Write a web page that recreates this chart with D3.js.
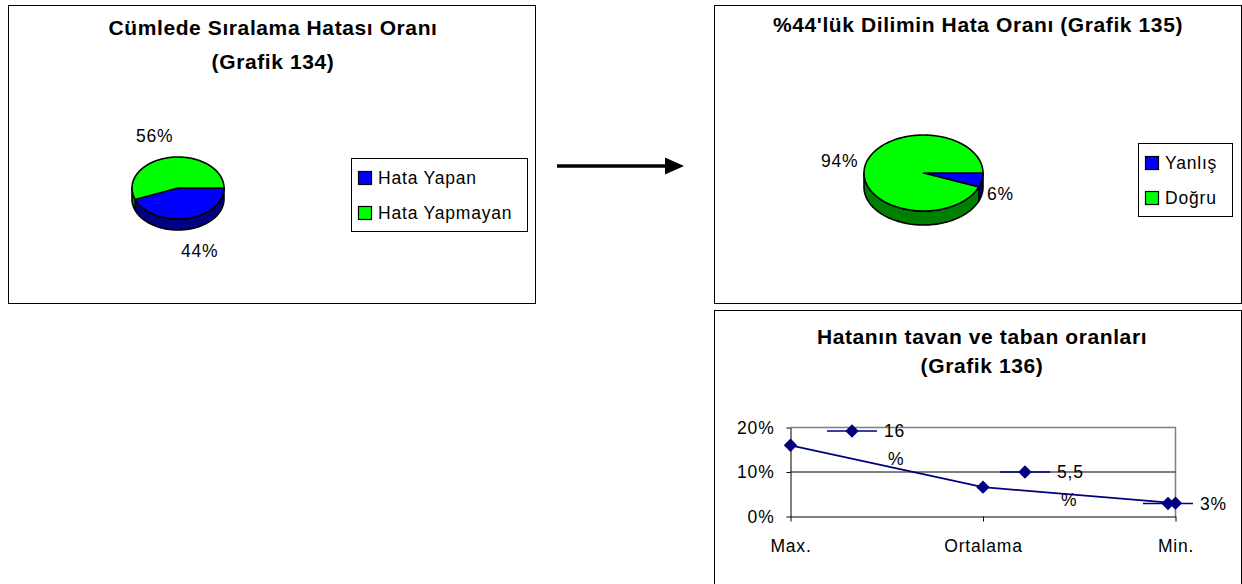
<!DOCTYPE html>
<html>
<head>
<meta charset="utf-8">
<script src="https://cdn.jsdelivr.net/npm/d3@7"></script>
<style>
  body { margin: 0; background: #fff; }
  svg { display: block; }
  text { font-family: "Liberation Sans", Arial, sans-serif; fill: #000; }
  .title { font-weight: bold; font-size: 21px; letter-spacing: 0.6px; }
  .lbl { font-size: 17.5px; letter-spacing: 0.8px; }
</style>
</head>
<body>
<svg id="chart" width="1242" height="584"></svg>
<script>
// data for the three charts
var pie1Labels = ["Hata Yapan", "Hata Yapmayan"];
var pie1Values = [44, 56];
var pie2Labels = ["Yanlış", "Doğru"];
var pie2Values = [6, 94];
var lineCats = ["Max.", "Ortalama", "Min."];
var lineValues = [16, 6.6, 3];
var lineLabels = [["16", "%"], ["5,5", "%"], ["3%"]];
var yTicks = [0, 10, 20];

var TOP_COLORS = ["#0000ff", "#00ff00"];
var SIDE_COLORS = ["#000080", "#008000"];

var svg = d3.select("#chart");

var drawBox = function(x, y, w, h) {
  svg.append("rect")
    .attr("x", x + 0.5).attr("y", y + 0.5)
    .attr("width", w).attr("height", h)
    .attr("fill", "none").attr("stroke", "#000").attr("stroke-width", 1);
};

var drawTitle = function(lines, cx, y0, gap) {
  lines.forEach(function(t, i) {
    svg.append("text").attr("class", "title")
      .attr("x", cx).attr("y", y0 + i * gap)
      .attr("text-anchor", "middle")
      .text(t);
  });
};

var ellipsePoint = function(cx, cy, rx, ry, a, dy) {
  return [cx + rx * Math.sin(a), cy - ry * Math.cos(a) + (dy || 0)];
};

var arcPoints = function(cx, cy, rx, ry, a0, a1, dy) {
  var n = Math.max(2, Math.ceil(Math.abs(a1 - a0) / 0.03));
  return d3.range(n + 1).map(function(i) {
    return ellipsePoint(cx, cy, rx, ry, a0 + (a1 - a0) * i / n, dy);
  });
};

var draw3dPie = function(values, cx, cy, rx, ry, depth) {
  // start at 3 o'clock, go clockwise
  var arcs = d3.pie().sort(null)
    .startAngle(Math.PI / 2).endAngle(Math.PI * 2.5)(values);
  var line = d3.line();
  var g = svg.append("g");
  // side walls (front half only)
  arcs.forEach(function(d, i) {
    var a0 = Math.max(d.startAngle, Math.PI / 2);
    var a1 = Math.min(d.endAngle, Math.PI * 1.5);
    if (a1 <= a0) return;
    var top = arcPoints(cx, cy, rx, ry, a0, a1, 0);
    var bot = arcPoints(cx, cy, rx, ry, a1, a0, depth);
    g.append("path")
      .attr("d", line(top.concat(bot)) + "Z")
      .attr("fill", SIDE_COLORS[i])
      .attr("stroke", "#000").attr("stroke-width", 1.6)
      .attr("stroke-linejoin", "round");
  });
  // top faces
  arcs.forEach(function(d, i) {
    var pts = [[cx, cy]].concat(arcPoints(cx, cy, rx, ry, d.startAngle, d.endAngle, 0));
    g.append("path")
      .attr("d", line(pts) + "Z")
      .attr("fill", TOP_COLORS[i])
      .attr("stroke", "#000").attr("stroke-width", 1.6)
      .attr("stroke-linejoin", "round");
  });
  return arcs;
};

var drawLegend = function(labels, x, y, w, h) {
  svg.append("rect")
    .attr("x", x + 0.5).attr("y", y + 0.5)
    .attr("width", w).attr("height", h)
    .attr("fill", "#fff").attr("stroke", "#000").attr("stroke-width", 1);
  labels.forEach(function(t, i) {
    var yy = y + 20 + i * 35;
    svg.append("rect")
      .attr("x", x + 7.5).attr("y", yy - 6.5)
      .attr("width", 13).attr("height", 13)
      .attr("fill", TOP_COLORS[i]).attr("stroke", "#000").attr("stroke-width", 1.2);
    svg.append("text").attr("class", "lbl")
      .attr("x", x + 27).attr("y", yy + 6)
      .text(t);
  });
};

var addLabel = function(t, x, y) {
  svg.append("text").attr("class", "lbl").attr("x", x).attr("y", y).text(t);
};

// ---------- chart 134 ----------
drawBox(8, 5, 527, 298);
drawTitle(["Cümlede Sıralama Hatası Oranı", "(Grafik 134)"], 273, 35, 34);
draw3dPie(pie1Values, 178, 188, 46, 31, 11);
addLabel(pie1Values[1] + "%", 136, 142);
addLabel(pie1Values[0] + "%", 181, 257);
drawLegend(pie1Labels, 351, 158, 176, 73);

// ---------- arrow ----------
svg.append("line")
  .attr("x1", 557).attr("y1", 166).attr("x2", 667).attr("y2", 166)
  .attr("stroke", "#000").attr("stroke-width", 3.5);
svg.append("path")
  .attr("d", "M665,157.5L684,166L665,174.5Z")
  .attr("fill", "#000");

// ---------- chart 135 ----------
drawBox(714, 5, 527, 298);
drawTitle(["%44'lük Dilimin Hata Oranı (Grafik 135)"], 978, 32, 0);
draw3dPie(pie2Values, 923.5, 173, 59.5, 38, 14);
addLabel(pie2Values[1] + "%", 821, 167);
addLabel(pie2Values[0] + "%", 987, 200);
drawLegend(pie2Labels, 1138, 143, 94, 73);

// ---------- chart 136 ----------
drawBox(714, 310, 527, 290);
drawTitle(["Hatanın tavan ve taban oranları", "(Grafik 136)"], 982, 344, 29);

var plot = { left: 790.5, right: 1175.5, top: 427.5, bottom: 516.5 };
var x = d3.scalePoint().domain(lineCats).range([plot.left, plot.right]).padding(0);
var y = d3.scaleLinear().domain([0, 20]).range([plot.bottom, plot.top]);

// plot area border (gray) and gridline
svg.append("path")
  .attr("d", "M" + plot.left + "," + plot.top + "H" + plot.right + "V" + plot.bottom)
  .attr("fill", "none").attr("stroke", "#808080").attr("stroke-width", 1.5);
svg.append("line")
  .attr("x1", plot.left).attr("x2", plot.right)
  .attr("y1", y(10)).attr("y2", y(10))
  .attr("stroke", "#000").attr("stroke-width", 1);

var yAxis = svg.append("g")
  .attr("transform", "translate(" + plot.left + ",0)")
  .call(d3.axisLeft(y).tickValues(yTicks).tickSize(4).tickSizeOuter(0)
    .tickFormat(function(d) { return d + "%"; }));
yAxis.select(".domain").attr("stroke", "#000");
yAxis.selectAll("text").attr("class", "lbl").attr("font-family", null).attr("font-size", null)
  .attr("x", -16);

var xAxis = svg.append("g")
  .attr("transform", "translate(0," + plot.bottom + ")")
  .call(d3.axisBottom(x).tickSize(5).tickSizeOuter(0));
xAxis.selectAll("text").attr("class", "lbl").attr("font-family", null).attr("font-size", null)
  .attr("y", 23);

var diamond = d3.symbol().type(d3.symbolSquare).size(90);
var NAVY = "#000080";

svg.append("path")
  .datum(lineValues)
  .attr("d", d3.line()
    .x(function(d, i) { return x(lineCats[i]); })
    .y(function(d) { return y(d); }))
  .attr("fill", "none").attr("stroke", NAVY).attr("stroke-width", 1.7);

svg.selectAll(".pt").data(lineValues).enter().append("path")
  .attr("class", "pt")
  .attr("d", diamond)
  .attr("transform", function(d, i) {
    return "translate(" + x(lineCats[i]) + "," + y(d) + ") rotate(45)";
  })
  .attr("fill", NAVY);

// data labels drawn with legend keys, as in the original
var labelPos = [[852, 431], [1025, 472], [1168, 503.5]];
labelPos.forEach(function(p, i) {
  var g = svg.append("g").attr("transform", "translate(" + p[0] + "," + p[1] + ")");
  g.append("line").attr("x1", -25).attr("x2", 25)
    .attr("stroke", NAVY).attr("stroke-width", 1.7);
  g.append("path").attr("d", diamond).attr("transform", "rotate(45)").attr("fill", NAVY);
  g.append("text").attr("class", "lbl").attr("x", 32).attr("y", 6)
    .text(lineLabels[i][0]);
  if (lineLabels[i][1]) {
    g.append("text").attr("class", "lbl").attr("x", 36).attr("y", 34)
      .text(lineLabels[i][1]);
  }
});
</script>
</body>
</html>
